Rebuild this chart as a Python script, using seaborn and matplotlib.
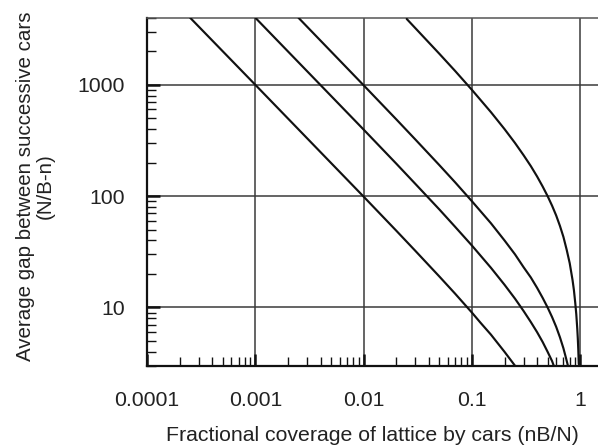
import numpy as np
import pandas as pd
import matplotlib
matplotlib.use("Agg")
import matplotlib.pyplot as plt
import matplotlib.ticker as mticker
import seaborn as sns

# ---- data ----
curve_a_x = [0.00025, 0.001, 0.01, 0.02, 0.03, 0.05, 0.07, 0.1, 0.12, 0.15, 0.2, 0.25]
curve_a_y = [4000, 999, 99, 49, 32.3, 19, 13.3, 9, 7.3, 5.7, 4.0, 3.0]

curve_b_x = [0.001, 0.01, 0.02, 0.03, 0.05, 0.07, 0.1, 0.15, 0.2, 0.25, 0.3,
             0.35, 0.4, 0.45, 0.5, 0.55, 0.57]
curve_b_y = [4000, 396, 196, 129, 76, 53, 36, 22.7, 16, 12, 9.3,
             7.4, 6.0, 4.9, 4.0, 3.3, 3.0]

curve_c_x = [0.0025, 0.01, 0.02, 0.03, 0.05, 0.07, 0.1, 0.15, 0.2, 0.25, 0.3,
             0.35, 0.4, 0.45, 0.5, 0.55, 0.6, 0.65, 0.7, 0.74, 0.77]
curve_c_y = [4000, 990, 490, 323, 190, 133, 90, 57, 40, 30, 23,
             18.6, 15, 12.2, 10, 8.2, 6.7, 5.4, 4.3, 3.5, 3.0]

curve_d_x = [0.025, 0.05, 0.07, 0.1, 0.15, 0.2, 0.25, 0.3, 0.35, 0.4, 0.45, 0.5,
             0.55, 0.6, 0.65, 0.7, 0.75, 0.8, 0.85, 0.875, 0.9, 0.92, 0.94,
             0.95, 0.96, 0.97]
curve_d_y = [3900, 1900, 1330, 900, 567, 400, 300, 233, 186, 150, 122, 100,
             82, 67, 54, 43, 33, 25, 17.6, 14.3, 11, 8.7, 6.4,
             5.3, 4.2, 3.1]

x_ticks = [0.0001, 0.001, 0.01, 0.1, 1]
x_tick_labels = ["0.0001", "0.001", "0.01", "0.1", "1"]
y_ticks = [10, 100, 1000]
y_tick_labels = ["10", "100", "1000"]

x_label = "Fractional coverage of lattice by cars (nB/N)"
y_label = "Average gap between successive cars\n(N/B-n)"

frames = []
for name, xs, ys in [("a", curve_a_x, curve_a_y), ("b", curve_b_x, curve_b_y),
                     ("c", curve_c_x, curve_c_y), ("d", curve_d_x, curve_d_y)]:
    frames.append(pd.DataFrame({"x": xs, "y": ys, "curve": name}))
df = pd.concat(frames, ignore_index=True)

sns.set_style("ticks")
plt.rcParams["font.family"] = ["Liberation Sans", "DejaVu Sans"]

fig = plt.figure(figsize=(5.98, 4.45), dpi=100)
ax = fig.add_axes([147 / 598, 1 - 365.7 / 445, 1 - 147 / 598, (365.7 - 17.7) / 445])

sns.lineplot(data=df, x="x", y="y", hue="curve", units="curve", estimator=None,
             sort=False, palette=["#111111"] * 4, linewidth=1.55, legend=False,
             ax=ax, zorder=3)

ax.set_xscale("log")
ax.set_yscale("log")
ax.set_xlim(1e-4, 1.46)
ax.set_ylim(3.0, 4000)

ax.set_xticks(x_ticks)
ax.set_xticklabels(x_tick_labels)
ax.set_yticks(y_ticks)
ax.set_yticklabels(y_tick_labels)
ax.xaxis.set_minor_locator(mticker.LogLocator(base=10, subs=np.arange(2, 10)))
ax.yaxis.set_minor_locator(mticker.LogLocator(base=10, subs=np.arange(2, 10)))
ax.xaxis.set_minor_formatter(mticker.NullFormatter())
ax.yaxis.set_minor_formatter(mticker.NullFormatter())

ax.grid(True, which="major", color="#3a3a3a", linewidth=1.1, zorder=1)
ax.set_axisbelow(True)

ax.tick_params(which="major", direction="in", length=9, width=1.8, color="#111111",
               labelsize=15.3, labelcolor="#222222")
ax.tick_params(axis="x", which="major", pad=18.5)
ax.tick_params(axis="y", which="major", pad=16)
ax.tick_params(which="minor", direction="in", length=6.5, width=1.0, color="#111111")
ax.tick_params(top=False, right=False, which="both")

for s in ["left", "bottom"]:
    ax.spines[s].set_linewidth(1.6)
    ax.spines[s].set_color("#111111")
ax.spines["right"].set_visible(False)
ax.spines["top"].set_linewidth(1.1)
ax.spines["top"].set_color("#555555")

ax.set_xlabel(x_label, fontsize=15.3, color="#222222", labelpad=11)
ax.set_ylabel(y_label, fontsize=14.8, color="#222222", linespacing=1.05)
ax.yaxis.set_label_coords(-0.205, 0.515)

fig.savefig("out.png", dpi=100)
